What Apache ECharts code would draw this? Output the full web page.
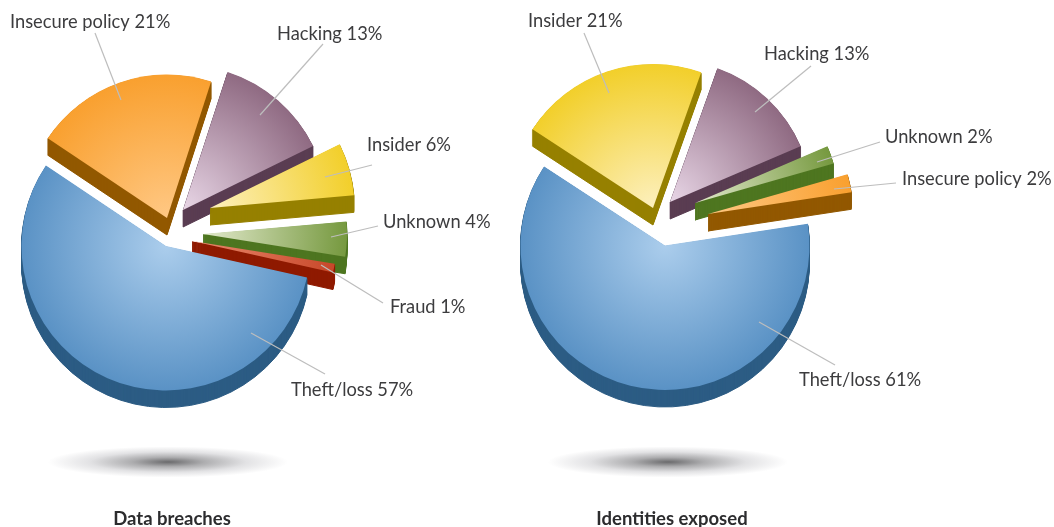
<!DOCTYPE html>
<html>
<head>
<meta charset="utf-8">
<style>html,body{margin:0;padding:0;background:#fff}#c{width:1054px;height:527px}</style>
<script src="https://cdn.jsdelivr.net/npm/echarts@6/dist/echarts.min.js"></script>
</head>
<body>
<div id="c"></div>
<script>
// Data (clockwise order as drawn)
const breachNames = ['Insecure policy', 'Hacking', 'Insider', 'Unknown', 'Fraud', 'Theft/loss'];
const breachValues = [21, 13, 6, 4, 1, 57];
const exposedNames = ['Insider', 'Hacking', 'Unknown', 'Insecure policy', 'Theft/loss'];
const exposedValues = [21, 13, 2, 2, 61];
const chartTitles = ['Data breaches', 'Identities exposed'];

// Styles per category: [apex colour, rim colour, side colour]
const palette = {
  'Insecure policy': ['#ffc884', '#f9a02f', '#925800'],
  'Hacking': ['#e8d6e6', '#8f6a82', '#5a3d52'],
  'Insider': ['#fdf0be', '#f2cf2a', '#968000'],
  'Unknown': ['#e2e9cc', '#76993f', '#4e7620'],
  'Fraud': ['#ea8a6e', '#c8482a', '#8f1a00'],
  'Theft/loss': ['#abcdec', '#5a92c5', '#2c5c84']
};

// Layout
const DEPTH = 17;
const breachLayout = {
  start: 146.2,
  radius: [143.5, 145, 144.5, 144, 144.5, 144.5],
  apex: [[167, 218], [183, 210], [210, 208], [203, 234], [192, 241], [166, 246]],
  text: [[10, 22], [277, 34], [367, 145], [383, 222], [390, 307], [291, 390]],
  lead: [[[121, 100], [95, 33]], [[260, 115], [323, 44]], [[325, 177], [372, 165]], [[331, 237], [378, 226]], [[321, 265], [383, 303]], [[251, 333], [325, 374]]]
};
const exposedLayout = {
  start: 146.8,
  radius: [144, 142, 144, 145, 144.5],
  apex: [[653, 208], [670, 202], [695, 203], [708, 214], [665, 245.5]],
  text: [[528, 21], [764, 54], [885, 137], [902, 179], [799, 380]],
  lead: [[[609, 93], [584, 33]], [[755, 112], [811, 66]], [[817, 162], [880, 142]], [[834, 189], [896, 183]], [[759, 322], [835, 365]]]
};
const shadowCentres = [[168, 462], [668, 462]];
const titleCentres = [167, 667];

const series = [];
const graphics = [];

function addPie(names, values, layout) {
  const total = values.reduce((a, b) => a + b, 0);
  let angle = layout.start;
  names.forEach((name, i) => {
    const v = values[i], [ax, ay] = layout.apex[i], c = palette[name], R = layout.radius[i];
    const mk = (cy, fill, side) => ({
      type: 'pie', name, silent: true, animation: false, clockwise: true,
      startAngle: angle, radius: [0, R], center: [ax, cy],
      label: { show: false }, labelLine: { show: false }, emphasis: { disabled: true },
      data: [
        { name, value: v, itemStyle: side ? { color: fill, borderColor: fill, borderWidth: 1 } : { color: fill } },
        { name: 'rest', value: total - v, itemStyle: { color: 'rgba(0,0,0,0)', borderWidth: 0 } }
      ]
    });
    for (let d = DEPTH; d >= 1; d--) series.push(mk(ay + d, c[2], true));
    series.push(mk(ay, {
      type: 'radial', x: ax, y: ay, r: R, global: true,
      colorStops: [{ offset: 0, color: c[0] }, { offset: 1, color: c[1] }]
    }, false));
    angle -= v / total * 360;

    const [[x1, y1], [x2, y2]] = layout.lead[i];
    graphics.push({ type: 'line', z: 100, silent: true, shape: { x1, y1, x2, y2 }, style: { stroke: '#bdbdbd', lineWidth: 1.2 } });
    graphics.push({
      type: 'text', z: 100, silent: true, x: layout.text[i][0], y: layout.text[i][1],
      style: { text: name + ' ' + v + '%', font: '18.3px Lato', fill: '#3c3c3e', textAlign: 'left', textVerticalAlign: 'middle' }
    });
  });
}
addPie(breachNames, breachValues, breachLayout);
addPie(exposedNames, exposedValues, exposedLayout);

shadowCentres.forEach(([x, y]) => graphics.push({
  type: 'circle', z: 1, silent: true, x, y, scaleY: 0.13, shape: { cx: 0, cy: 0, r: 120 },
  style: { fill: { type: 'radial', x: 0.5, y: 0.5, r: 0.5, colorStops: [
    { offset: 0, color: '#6a6a6c' }, { offset: 0.3, color: '#adadaf' },
    { offset: 0.65, color: '#e2e2e4' }, { offset: 1, color: '#ffffff' }] } }
}));

const chart = echarts.init(document.getElementById('c'), null, { renderer: 'canvas' });
chart.setOption({
  animation: false,
  backgroundColor: '#fff',
  title: chartTitles.map((t, i) => ({
    text: t, left: titleCentres[i], top: 505, textAlign: 'center',
    textStyle: { fontFamily: 'Lato', fontSize: 18.5, fontWeight: 'bold', color: '#2c2c2e' }
  })),
  graphic: { elements: graphics },
  series
});
</script>
</body>
</html>
